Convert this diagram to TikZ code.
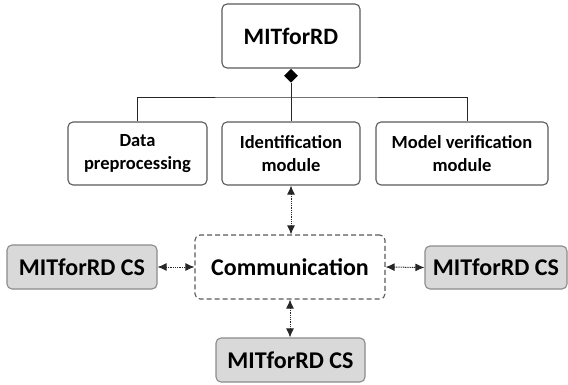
\documentclass[tikz,border=0pt]{standalone}
\usepackage{fontspec}
\setmainfont{Carlito}
\usetikzlibrary{arrows.meta,shapes.geometric}
\definecolor{boxline}{RGB}{90,90,90}
\definecolor{csfill}{RGB}{217,217,217}
\begin{document}
\begin{tikzpicture}[x=1pt,y=-1pt,
  box/.style={draw=boxline,line width=1.1pt,rounded corners=5pt,fill=white,align=center,
    font=\fontsize{18.5}{23}\selectfont\bfseries,inner sep=0pt},
  bigbox/.style={box,font=\fontsize{23.5}{26}\selectfont\bfseries},
  csbox/.style={box,fill=csfill,draw=boxline!70,font=\fontsize{24}{26}\selectfont\bfseries},
  commbox/.style={box,dashed,dash pattern=on 5pt off 3pt,font=\fontsize{24}{26}\selectfont\bfseries},
  tree/.style={draw=black!85,line width=0.9pt},
  link/.style={draw=black!85,line width=1pt,dash pattern=on 1pt off 0.8pt,
    {Latex[length=9pt,width=8pt]}-{Latex[length=9pt,width=8pt]}}
]
\useasboundingbox (0,0) rectangle (568,385);
\node[bigbox,minimum width=138pt,minimum height=64pt] (mit) at (291,36) {MITforRD};
\node[box,minimum width=139pt,minimum height=63pt] (data) at (137.5,153.5) {Data\\preprocessing};
\node[box,minimum width=138pt,minimum height=63pt] (ident) at (291,153.5) {Identification\\module};
\node[box,minimum width=172pt,minimum height=63pt] (model) at (462,153.5) {Model verification\\module};
\node[commbox,minimum width=190pt,minimum height=64pt] (comm) at (290,267) {Communication};
\node[csbox,minimum width=150pt,minimum height=44pt] (csl) at (82,267) {MITforRD CS};
\node[csbox,minimum width=142pt,minimum height=43pt] (csr) at (496,267.5) {MITforRD CS};
\node[csbox,minimum width=149pt,minimum height=44pt] (csb) at (290.5,360) {MITforRD CS};
\node[diamond,fill=black,inner sep=0pt,minimum width=14pt,minimum height=14pt,anchor=north] (dia) at (mit.south) {};
\coordinate (hb) at (291,97);
\draw[tree] (dia.south) -- (ident.north);
\draw[tree] (data.north) |- (hb) -| ([xshift=5pt]model.north);
\draw[link] (ident.south) -- (ident.south |- comm.north);
\draw[link] (csl.east) -- (comm.west);
\draw[link] (comm.east) -- (csr.west);
\draw[link] (comm.south) -- (comm.south |- csb.north);
\end{tikzpicture}
\end{document}
